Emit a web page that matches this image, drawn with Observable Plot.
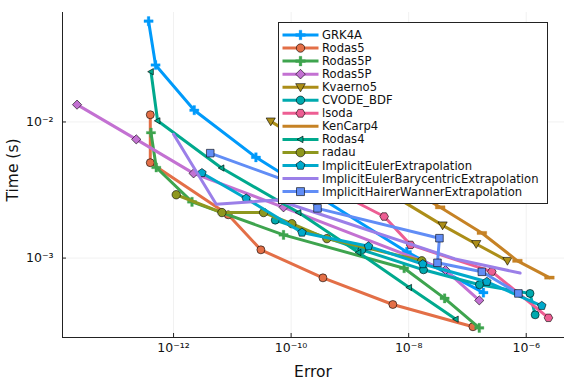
<!DOCTYPE html>
<html><head><meta charset="utf-8">
<script src="https://cdn.jsdelivr.net/npm/d3@7"></script>
<script src="https://cdn.jsdelivr.net/npm/@observablehq/plot@0.6"></script>
<style>
body{margin:0;background:#fff;}
#wrap{position:relative;width:576px;height:384px;font-family:"DejaVu Sans",sans-serif;}
#wrap svg{position:absolute;left:0;top:0;}
</style></head><body><div id="wrap"></div>
<script>
// ---- data (Error, Time in s) ----
const seriesNames = ["GRK4A","Rodas5","Rodas5P","Rodas5P","Kvaerno5","CVODE_BDF","lsoda","KenCarp4","Rodas4","radau","ImplicitEulerExtrapolation","ImplicitEulerBarycentricExtrapolation","ImplicitHairerWannerExtrapolation"];
const xTicks = [1e-12, 1e-10, 1e-8, 1e-6];
const yTicks = [1e-3, 1e-2];

const grk4aErr  = [3.76e-13, 4.94e-13, 2.25e-12, 2.52e-11, 9.31e-9, 1.87e-7];
const grk4aTime = [5.50e-2, 2.62e-2, 1.22e-2, 5.50e-3, 1.11e-3, 5.58e-4];
const rodas5Err  = [4.02e-13, 4.02e-13, 8.51e-12, 3.06e-11, 3.48e-10, 5.38e-9, 1.24e-7];
const rodas5Time = [1.13e-2, 5.02e-3, 2.08e-3, 1.15e-3, 7.16e-4, 4.56e-4, 3.13e-4];
const rodas5pErr  = [4.13e-13, 5.08e-13, 2.06e-12, 7.43e-11, 8.38e-9, 4.09e-8, 1.59e-7];
const rodas5pTime = [8.34e-3, 4.63e-3, 2.59e-3, 1.48e-3, 8.43e-4, 5.06e-4, 3.07e-4];
const rodas5pBErr  = [2.28e-14, 2.32e-13, 2.19e-12, 7.43e-11, 4.23e-8, 1.59e-7];
const rodas5pBTime = [1.34e-2, 7.45e-3, 4.19e-3, 2.36e-3, 8.17e-4, 4.89e-4];
const kvaerno5Err  = [4.50e-11, 3.78e-8, 1.41e-7, 4.79e-7];
const kvaerno5Time = [1.01e-2, 1.74e-3, 1.27e-3, 9.55e-4];
const cvodeErr  = [5.37e-11, 1.60e-9, 1.79e-8, 1.60e-7, 1.16e-6, 1.42e-6];
const cvodeTime = [1.90e-3, 1.15e-3, 8.20e-4, 6.37e-4, 5.50e-4, 3.83e-4];
const lsodaErr  = [4.62e-10, 3.83e-9, 1.08e-8, 2.60e-7, 2.39e-6];
const lsodaTime = [3.23e-3, 2.02e-3, 1.25e-3, 7.96e-4, 3.64e-4];
const kencarp4Err  = [7.19e-9, 3.44e-8, 1.76e-7, 7.08e-7, 2.48e-6];
const kencarp4Time = [3.52e-3, 2.36e-3, 1.53e-3, 9.55e-4, 7.19e-4];
const rodas4Err  = [4.13e-13, 5.35e-13, 6.55e-12, 1.34e-10, 1.40e-9, 1.02e-8, 6.35e-8];
const rodas4Time = [2.34e-2, 1.02e-2, 4.59e-3, 2.16e-3, 1.10e-3, 6.08e-4, 3.56e-4];
const radauErr  = [1.11e-12, 6.65e-12, 3.40e-11, 1.03e-10, 4.06e-10, 1.67e-8];
const radauTime = [2.92e-3, 2.16e-3, 2.16e-3, 1.79e-3, 1.39e-3, 9.55e-4];
const ieeErr  = [3.04e-12, 1.72e-11, 1.53e-10, 2.07e-9, 1.74e-8, 2.14e-7, 1.84e-6];
const ieeTime = [4.22e-3, 2.74e-3, 1.54e-3, 1.22e-3, 9.04e-4, 6.70e-4, 4.46e-4];
const iebeErr  = [1.00e-12, 5.32e-12, 5.81e-11, 6.18e-8, 7.87e-7];
const iebeTime = [8.13e-3, 2.49e-3, 2.67e-3, 9.86e-4, 7.76e-4];
const ihweErr  = [4.21e-12, 1.43e-10, 2.81e-10, 3.34e-8, 3.09e-8, 1.76e-7, 7.36e-7];
const ihweTime = [5.90e-3, 3.40e-3, 2.32e-3, 1.40e-3, 9.23e-4, 7.93e-4, 5.50e-4];

const colors = ["#009AFA","#E36F47","#3EA44E","#C371D2","#AC8E18","#00AAAE","#ED5E93","#C68225","#00A98D","#8E971E","#00A9CB","#9B7FE8","#618DF6"];

// ---- symbols ----
const poly = pts => ({draw(ctx, size){const r=Math.sqrt(size/Math.PI); pts.forEach(([a,b],i)=> i?ctx.lineTo(a*r,b*r):ctx.moveTo(a*r,b*r)); ctx.closePath();}});
const w=0.33, L=1.15;
const plus = poly([[-w,-L],[w,-L],[w,-w],[L,-w],[L,w],[w,w],[w,L],[-w,L],[-w,w],[-L,w],[-L,-w],[-w,-w]]);
const circle = {draw(ctx,size){const r=Math.sqrt(size/Math.PI); ctx.moveTo(r,0); ctx.arc(0,0,r,0,2*Math.PI);}};
const diamond = poly([[0,-1.15],[1.15,0],[0,1.15],[-1.15,0]]);
const triDown = poly([[0,1.1],[-1.15,-0.85],[1.15,-0.85]]);
const triLeft = poly([[-1.1,0],[0.8,-1.05],[0.8,1.05]]);
const pentagon = poly(d3.range(5).map(k=>{const a=-Math.PI/2+k*2*Math.PI/5; return [1.12*Math.cos(a),1.12*Math.sin(a)];}));
const hexagon = poly(d3.range(6).map(k=>{const a=k*Math.PI/3; return [1.08*Math.cos(a),1.08*Math.sin(a)];}));
const square = poly([[-0.95,-0.95],[0.95,-0.95],[0.95,0.95],[-0.95,0.95]]);
const hline = poly([[-1.35,-0.45],[1.35,-0.45],[1.35,0.45],[-1.35,0.45]]);

const errs  = [grk4aErr, rodas5Err, rodas5pErr, rodas5pBErr, kvaerno5Err, cvodeErr, lsodaErr, kencarp4Err, rodas4Err, radauErr, ieeErr, iebeErr, ihweErr];
const times = [grk4aTime, rodas5Time, rodas5pTime, rodas5pBTime, kvaerno5Time, cvodeTime, lsodaTime, kencarp4Time, rodas4Time, radauTime, ieeTime, iebeTime, ihweTime];
const syms  = [plus, circle, plus, diamond, triDown, circle, hexagon, hline, triLeft, circle, pentagon, null, square];
const rs    = [4, 4, 4, 4, 4, 4, 4, 3.6, 3, 4.2, 4, 0, 4];
const outline = [false, true, false, true, true, true, true, false, true, true, true, false, true];

const W=576, H=384, mL=62, mR=12, mT=12, mB=47;
const xDomain=[1.29e-14, 4.48e-6], yDomain=[2.61e-4, 6.37e-2];
const sup = n => String(n).replace(/-/g,"⁻").replace(/\d/g,d=>"⁰¹²³⁴⁵⁶⁷⁸⁹"[d]);
const fmt = d => "10" + sup(Math.round(Math.log10(d)));

const marks = [
  Plot.gridX(xTicks, {stroke:"#000", strokeOpacity:0.1, strokeWidth:0.6}),
  Plot.gridY(yTicks, {stroke:"#000", strokeOpacity:0.1, strokeWidth:0.6}),
];
seriesNames.forEach((name,i)=>{
  const data = errs[i].map((e,j)=>({err:e, time:times[i][j]}));
  marks.push(Plot.line(data, {x:"err", y:"time", stroke:colors[i], strokeWidth:3, strokeLinejoin:"round"}));
  if (syms[i]) marks.push(Plot.dot(data, {x:"err", y:"time", symbol:syms[i], r:rs[i], fill:colors[i], stroke: outline[i] ? "#000" : colors[i], strokeWidth: outline[i] ? 0.6 : 0.3}));
});
marks.push(
  Plot.ruleX([xDomain[0]], {stroke:"#222", strokeWidth:1}),
  Plot.ruleY([yDomain[0]], {stroke:"#222", strokeWidth:1}),
  Plot.ruleX(xTicks, {y1: yDomain[0], y2: yDomain[0]*Math.pow(10, 4/136), stroke:"#222", strokeWidth:1}),
  Plot.ruleY(yTicks, {x1: xDomain[0], x2: xDomain[0]*Math.pow(10, 4/58.8), stroke:"#222", strokeWidth:1}),
  Plot.axisX({ticks:xTicks, tickSize:0, tickPadding:6, tickFormat:fmt, label:null, fontSize:12.5}),
  Plot.axisY({ticks:yTicks, tickSize:0, tickPadding:9, tickFormat:fmt, label:null, fontSize:12.5})
);

const chart = Plot.plot({
  width:W, height:H, marginLeft:mL, marginRight:mR, marginTop:mT, marginBottom:mB,
  x:{type:"log", domain:xDomain}, y:{type:"log", domain:yDomain},
  style:{fontFamily:"DejaVu Sans, sans-serif", fontSize:"12px", color:"#111", background:"transparent"},
  marks
});
document.getElementById("wrap").appendChild(chart);

// ---- overlay: axis titles and legend ----
const ov = d3.select("#wrap").append("svg").attr("width",W).attr("height",H).style("pointer-events","none");
ov.append("text").attr("x",(mL+W-mR)/2).attr("y",372).attr("text-anchor","middle").attr("dominant-baseline","middle")
  .attr("font-size",15.5).attr("fill","#111").text("Error");
ov.append("text").attr("transform","translate(13,170) rotate(-90)").attr("text-anchor","middle").attr("dominant-baseline","middle")
  .attr("font-size",15.5).attr("fill","#111").text("Time (s)");

const lg = ov.append("g");
lg.append("rect").attr("x",278.5).attr("y",22.5).attr("width",269).attr("height",181).attr("fill","#fff").attr("stroke","#222").attr("stroke-width",1);
seriesNames.forEach((name,i)=>{
  const y = 35 + i*13.05;
  lg.append("line").attr("x1",282.5).attr("x2",318.5).attr("y1",y).attr("y2",y).attr("stroke",colors[i]).attr("stroke-width",3);
  if (syms[i] && syms[i]!==hline) {
    lg.append("path").attr("transform",`translate(300.5,${y})`)
      .attr("d", d3.symbol().type(syms[i]).size(Math.PI*rs[i]*rs[i]*1.1)())
      .attr("fill",colors[i]).attr("stroke", outline[i] ? "#000" : colors[i]).attr("stroke-width", outline[i]?0.6:0.3);
  }
  lg.append("text").attr("x",322).attr("y",y).attr("dominant-baseline","central").attr("font-size",11.6).attr("fill","#111").text(name);
});
</script></body></html>
